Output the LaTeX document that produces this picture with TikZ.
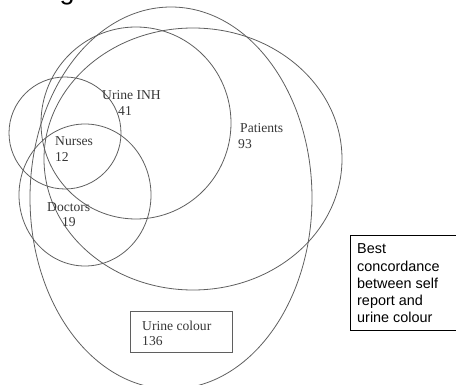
\documentclass[tikz,border=0pt]{standalone}
\usepackage{fontspec}
\setmainfont{Liberation Serif}
\newfontfamily\arialfont{Liberation Sans}
\definecolor{linegray}{RGB}{95,95,95}
\definecolor{textgray}{RGB}{55,55,55}
\begin{document}
\begin{tikzpicture}[x=1pt,y=-1pt,
  venn/.style={draw=linegray,line width=0.8pt},
  lbl/.style={anchor=base west,inner sep=0pt,text=textgray,font=\fontsize{13.6}{16}\selectfont},
  boxline/.style={draw=linegray,line width=0.8pt}]
\useasboundingbox (0,0) rectangle (456,385);
% cropped title descender
\node[anchor=base west,inner sep=0pt,font=\arialfont\fontsize{27}{30}\selectfont] (title) at (59.5,-0.5) {g};
% sets
\draw[venn] (171,198) ellipse [x radius=141,y radius=191];
\draw[venn] (193,159) ellipse [x radius=149,y radius=131];
\draw[venn] (136,123) ellipse [x radius=95,y radius=96];
\draw[venn] (65,133) ellipse [x radius=56,y radius=56];
\draw[venn] (85,195) ellipse [x radius=66,y radius=71];
% labels
\node[lbl] (inh) at (102,99.5) {Urine INH};
\node[lbl] (inhn) at (118,116) {41};
\node[lbl] (pat) at (240,133) {Patients};
\node[lbl] (patn) at (238,149) {93};
\node[lbl] (nur) at (55,146) {Nurses};
\node[lbl] (nurn) at (55,162) {12};
\node[lbl] (doc) at (47,212) {Doctors};
\node[lbl] (docn) at (62,227) {19};
% urine colour box
\draw[boxline] (130,311) rectangle (232,352);
\node[lbl] (uc) at (142,331) {Urine colour};
\node[lbl] (ucn) at (142,345.5) {136};
% note box
\draw[boxline,draw=black] (350,235) rectangle (462,330);
\node[anchor=base west,inner sep=0pt,align=left,font=\arialfont\fontsize{14.4}{17.3}\selectfont] (note) at (357,323) {Best\\concordance\\between self\\report and\\urine colour};
\end{tikzpicture}
\end{document}
